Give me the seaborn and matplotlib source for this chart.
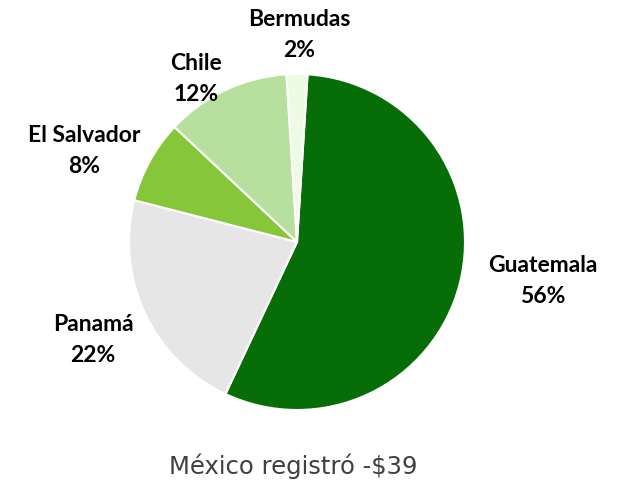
import matplotlib
matplotlib.use("Agg")
import matplotlib.pyplot as plt
import seaborn as sns

# data
countries = ["Guatemala", "Panamá", "El Salvador", "Chile", "Bermudas"]
shares = [56, 22, 8, 12, 2]
colors = ["#076E07", "#E6E6E6", "#86C73A", "#B7DF9D", "#EDFAE4"]

# label positions (in pie radius units)
label_pos = [(1.462, -0.226), (-1.214, -0.577), (-1.268, 0.548),
             (-0.601, 0.976), (0.012, 1.238)]

sns.set_theme(style="white")
plt.rcParams["font.family"] = ["Lato", "DejaVu Sans"]

fig = plt.figure(figsize=(6.17, 4.85), dpi=100)
# axes placed so that the pie radius is 168 px, centre (297, 243)
ax = fig.add_axes([129 / 617, (485 - 243 - 168) / 485, 336 / 617, 336 / 485])

wedges, _ = ax.pie(shares, colors=colors, startangle=86.4, counterclock=False,
                   wedgeprops=dict(edgecolor="white", linewidth=1.5))
ax.set_xlim(-1, 1)
ax.set_ylim(-1, 1)
ax.set_aspect("equal")
ax.axis("off")

for name, val, (x, y) in zip(countries, shares, label_pos):
    ax.text(x, y, f"{name}\n{val}%", ha="center", va="center",
            fontsize=16.5, fontweight="bold", color="black",
            linespacing=1.6, clip_on=False)

fig.text(293 / 617, 1 - 466 / 485, "México registró -$39", ha="center", va="center",
         fontsize=17.5, color="#404040", family="DejaVu Sans")

fig.savefig("out.png", dpi=100)
